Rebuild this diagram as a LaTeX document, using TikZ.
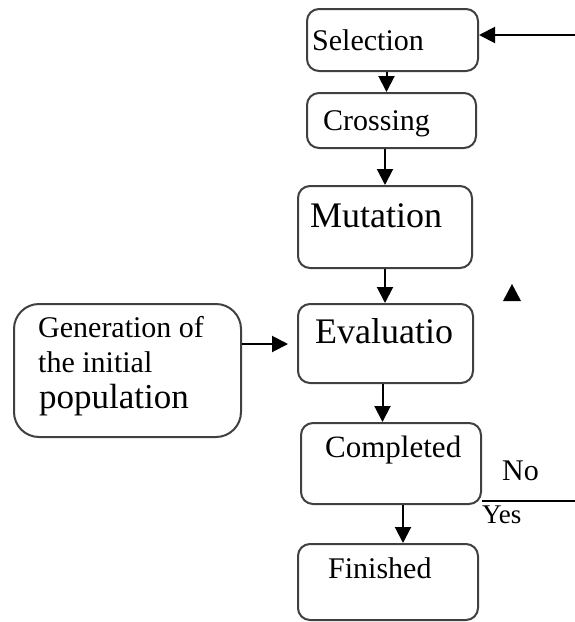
\documentclass[tikz,border=0pt]{standalone}
\usepackage{fontspec}
\setmainfont{Liberation Serif}
\usetikzlibrary{
    arrows.meta,
    positioning
}

\begin{document}
\begin{tikzpicture}[x=1pt, y=-1pt,
    blk/.style={draw=black!75, line width=2pt, rounded corners=12pt, anchor=north west, inner sep=0pt},
    txt/.style={anchor=base west, inner sep=0pt, font=\fontsize{30}{34}\selectfont},
    bigtxt/.style={txt, font=\fontsize{36}{40}\selectfont},
    flow/.style={line width=2pt, -{Triangle[length=16pt, width=16pt]}}]
                        \useasboundingbox (0, 0) rectangle (575, 622);
                        % boxes
                        \node[blk, minimum width=171pt, minimum height=62pt] (sel) at (306, 8) {};
                        \node[blk, minimum width=169pt, minimum height=55pt] (cross) at (306, 92) {};
                        \node[blk, minimum width=174pt, minimum height=82pt] (mut) at (297, 185) {};
                        \node[blk, minimum width=227pt, minimum height=133pt, rounded corners=25pt] (gen) at (13, 303) {};
                        \node[blk, minimum width=175pt, minimum height=79pt] (eval) at (297, 303) {};
                        \node[blk, minimum width=180pt, minimum height=81pt] (comp) at (300, 422) {};
                        \node[blk, minimum width=180pt, minimum height=76pt] (fin) at (297, 543) {};
                        % texts
                        \node[txt] (seltxt) at (312, 50) {Selection};
                        \node[txt] (crosstxt) at (323, 130) {Crossing};
                        \node[bigtxt] (muttxt) at (310, 227) {Mutation};
                        \node[bigtxt] (evaltxt) at (315, 343) {Evaluatio};
                        \node[txt] (gentxta) at (38, 337) {Generation of};
                        \node[txt] (gentxtb) at (38, 372) {the initial};
                        \node[txt, font=\fontsize{35}{40}\selectfont] (gentxtc) at (39, 408) {population};
                        \node[txt, font=\fontsize{31}{34}\selectfont] (comptxt) at (325, 457) {Completed};
                        \node[txt] (notxt) at (502, 480) {No};
                        \node[txt, font=\fontsize{27}{30}\selectfont] (yestxt) at (482, 523) {Yes};
                        \node[txt] (fintxt) at (328, 578) {Finished};
                        % loose ends
                        \coordinate (back) at (575, 35);
                        \coordinate (noend) at (575, 501);
                        \coordinate (genout) at ([yshift=26.5pt]gen.east);
                        \fill (503, 301) -- (512, 284) -- (521, 301) -- cycle;
                        % connectors
                        \draw[flow] (back) -- (sel.east |- back);
                        \draw[flow] ([xshift=-6pt]sel.south) -- ([xshift=-5pt]cross.north);
                        \draw[flow] (cross.south -| mut.north) -- (mut.north);
                        \draw[flow] (mut.south) -- (mut.south |- eval.north);
                        \draw[flow, shorten >=9pt] (genout) -- (genout -| eval.west);
                        \draw[flow] ([xshift=-3pt]eval.south) -- ([xshift=-3pt]eval.south |- comp.north);
                        \draw[flow] ([xshift=12pt]comp.south) -- ([xshift=12pt]comp.south |- fin.north);
                        \draw[line width=2pt] (noend -| comp.east) -- (noend);
                    \end{tikzpicture}
\end{document}
